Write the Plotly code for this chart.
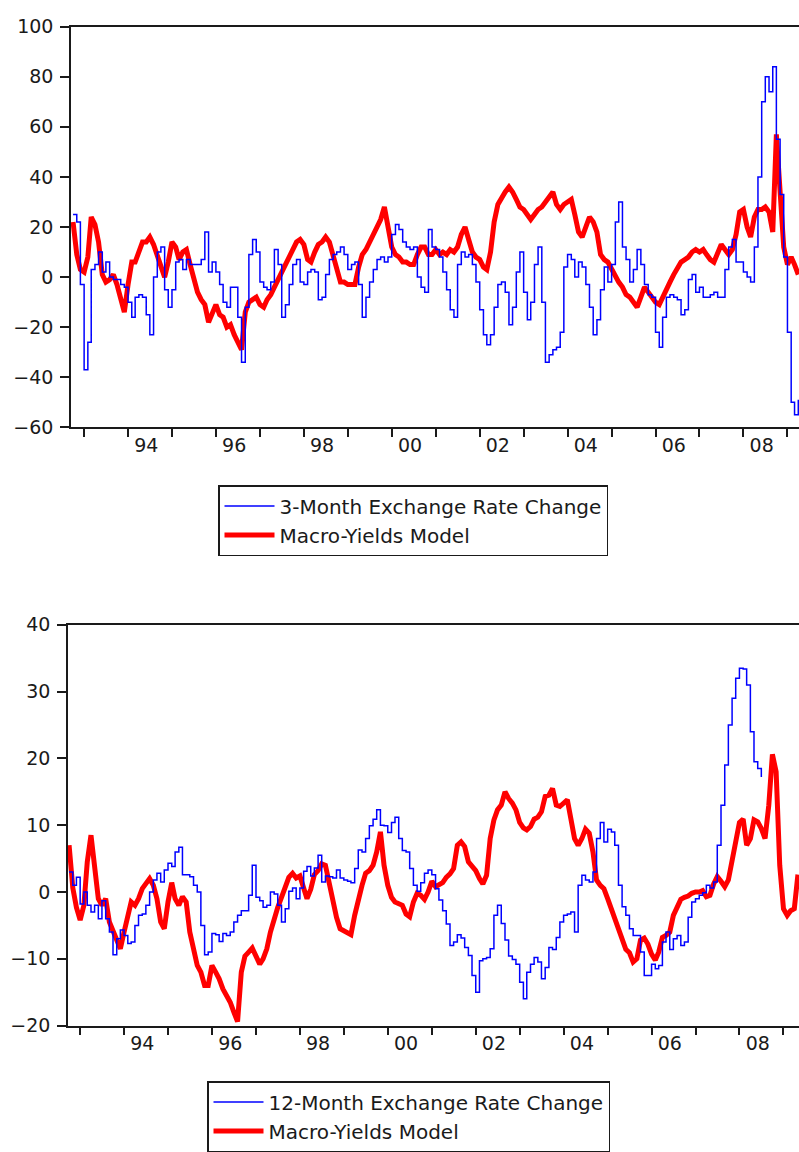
import pandas as pd
import plotly.graph_objects as go

# ---------------- data (monthly, first value = Oct 1992) ----------------
start_month = "1992-10-01"

top_fx_3m = [25, 22, -3, -37, -26, 3, 5, 10, 2, 6, 0, -1, -1, -3, -4, -10, -16, -8, -7, -8,
             -15, -23, 0, 10, 12, -5, -12, -5, 6, 7, 3, 7, 5, 5, 5, 7, 18, 2, 6, 2,
             -3, -10, -12, -4, -4, -16, -34, -12, 9, 15, 10, -2, -4, -5, -2, 11, 5, -16, -11, -3,
             5, 7, -2, -3, 2, 3, 2, -9, -8, 1, 7, 9, 10, 12, 9, 3, 5, 6, -3, -16,
             -8, -2, 3, 7, 8, 6, 8, 17, 21, 19, 14, 12, 11, 12, 0, -4, -6, 19, 12, 11,
             8, 2, -5, -13, -16, 5, 10, 8, 9, 5, -2, -13, -23, -27, -23, -12, -3, -2, -6, -19,
             -12, 2, 10, -6, -17, -10, 5, 12, -10, -34, -31, -29, -28, -22, 4, 9, 7, 0, 6, 4,
             -3, -12, -23, -17, -5, 4, -2, 5, 22, 30, 12, 7, -2, 3, 11, 5, -3, -7, -8, -22,
             -28, -16, -8, -7, -8, -9, -15, -13, -1, 1, -6, -4, -8, -8, -7, -6, -8, -8, 3, 12,
             15, 6, 6, 2, 0, -2, 12, 40, 70, 80, 74, 84, 55, 33, 8, -22, -50, -55, -49]

top_model = [22, 9, 3, 2, 8, 24, 21, 14, 1, -2, -1, 1, -3, -8, -14, -3, 6, 6, 10, 14,
             14, 16, 13, 9, 5, 0, 6, 14, 12, 7, 10, 11, 5, -1, -6, -9, -11, -18, -14, -11,
             -15, -16, -20, -19, -23, -26, -29, -14, -10, -9, -8, -11, -12, -9, -7, -4, -1, 2, 5, 7,
             11, 14, 15, 13, 7, 6, 10, 13, 14, 16, 14, 9, 3, -2, -2, -3, -3, -3, 4, 9,
             11, 14, 18, 20, 23, 28, 20, 12, 9, 8, 6, 6, 5, 5, 9, 12, 12, 9, 9, 11,
             9, 10, 9, 11, 10, 12, 17, 20, 15, 10, 8, 7, 4, 3, 10, 22, 29, 32, 34, 36,
             34, 31, 28, 27, 25, 23, 25, 27, 28, 30, 32, 34, 29, 27, 29, 30, 31, 25, 18, 16,
             20, 24, 22, 18, 9, 7, 6, 3, 0, -2, -4, -7, -8, -10, -12, -8, -4, -6, -8, -10,
             -11, -8, -4, -2, 1, 4, 6, 7, 8, 10, 11, 10, 11, 9, 7, 6, 10, 13, 11, 9,
             11, 17, 26, 27, 20, 16, 24, 27, 27, 28, 26, 18, 57, 35, 12, 5, 8, 5, 1]

bottom_fx_12m = [3, 1, 2.2, -1.8, 0, -2, -3, -2, -4, -1.3, -4, -6, -9.4, -7, -5.7, -6.5, -7.7, -7.5, -5, -3.5,
                 -3.3, -2, 0, 1.8, 2.8, 1.5, 3.3, 4.3, 3.8, 6, 6.7, 2.6, 2.6, 2.3, 1, 0, -5, -9.4, -9, -6.2,
                 -6.4, -7.4, -6.2, -6.5, -6, -4.5, -3.5, -2.8, -2.8, -0.5, 4, -0.8, -1.3, -2.3, -2, 0, -0.3, -2, -4.5, -2.5,
                 0.1, 0.6, -1, 0.6, 3.1, 3.8, 2.4, 3.6, 5.5, 1.5, 2.4, 2.3, 2.1, 3.3, 2.1, 1.8, 1.6, 1.4, 3.5, 6.3,
                 6, 8, 9.9, 10.9, 12.3, 10, 9.9, 8.9, 10.4, 11.2, 8, 6.2, 6, 3.5, 1, 0.1, 1.4, 2.8, 3.3, 2.6,
                 0.5, -1.2, -2.8, -4.8, -8, -7.5, -6.4, -6.9, -8.3, -9.5, -12.5, -15, -10.3, -10, -9.8, -8.5, -3.5, -2, -4.7, -7.2,
                 -9.6, -10.1, -10.8, -13.5, -16, -12, -10.8, -9.8, -10.5, -13, -11.3, -8.3, -8.6, -6.8, -4.5, -3.5, -3.3, -3, -6, 1,
                 2.5, 1.8, 1.5, 3, 8, 10.4, 7.5, 9.4, 9, 7, 1, -2.2, -3.5, -5.5, -6.5, -6.5, -9, -12.5, -12.5, -10.8,
                 -11.5, -11, -7.5, -6, -8.6, -7, -6.5, -8, -7.5, -3.8, -1.5, -1, -0.5, -0.1, 1, 0.6, 1.5, 7, 13, 19,
                 25, 29, 32, 33.5, 33.4, 31, 24, 19.5, 18.5, 17.2]

bottom_model = [7, 0.6, -2.3, -4.2, -2, 4.5, 8.5, 3, -1, -2, -1, -4.5, -6, -7, -8.5, -6, -3.5, -1.5, -2, -1,
                0.5, 1.4, 2, 1, -1, -4.5, -5.5, -1.5, 1.4, -1, -2, -0.7, -1.5, -6, -9, -11, -12, -14, -14, -11,
                -12, -13, -14.5, -15.5, -16.5, -18, -19.4, -12, -9.6, -9, -8.4, -9.6, -10.8, -10, -8.5, -6, -4, -2.3, -0.8, 1,
                2.2, 2.8, 2.1, 2.4, 0.8, -1, 0.4, 2.6, 3.2, 4.2, 4, 1.5, -1.5, -3.8, -5.5, -5.8, -6.1, -6.4, -3.5, -1,
                1, 2.8, 3.2, 4, 6, 9, 4, 1, -0.8, -1.5, -1.8, -2, -3.3, -3.7, -1.5, -0.2, -0.5, -1.1, 0, 1.6,
                0.8, 1.1, 1.4, 2.2, 2.7, 3.5, 7, 7.5, 6.8, 4.5, 3.8, 3.2, 2, 1.2, 2.5, 8, 10.8, 12.3, 13, 15,
                14, 13.3, 12.3, 10.4, 9.6, 9.3, 9.8, 10.9, 11.2, 12, 14.3, 14.5, 15.5, 13, 12.8, 13.3, 13.8, 11, 8, 7,
                8, 9.4, 8.8, 6, 1.8, 1, 0.5, -1, -2.5, -3.8, -5.3, -7.2, -8.6, -9.1, -10.5, -10, -7.2, -6.9, -7.8, -9.3,
                -10.2, -9, -6.8, -6.5, -6, -3.5, -2.2, -1.1, -0.8, -0.6, -0.2, 0, 0, 0.2, -0.7, -0.5, 1.2, 2.3, 1.6, 0.8,
                1.8, 4.5, 7.5, 10.4, 10.9, 7, 8, 10.8, 10.5, 9.5, 8, 13, 20.6, 18, 4, -2.5, -3.5, -2.8, -2.5, 2.6]

label_years = [1994, 1996, 1998, 2000, 2002, 2004, 2006, 2008]
label_text = ["94", "96", "98", "00", "02", "04", "06", "08"]
boundary_years = list(range(1993, 2010))
top_yticks = [-60, -40, -20, 0, 20, 40, 60, 80, 100]
bottom_yticks = [-20, -10, 0, 10, 20, 30, 40]

names_top = ["3-Month Exchange Rate Change", "Macro-Yields Model"]
names_bottom = ["12-Month Exchange Rate Change", "Macro-Yields Model"]

# ---------------- figure ----------------
def dates(n):
    return pd.date_range(start_month, periods=n, freq="MS")

W, H = 799, 1152
BLUE, RED, INK = "#0000FF", "#FF0000", "#1a1a1a"
FONT = "DejaVu Sans"

fig = go.Figure()
fig.add_trace(go.Scatter(x=dates(len(top_model)), y=top_model, name=names_top[1],
                         mode="lines", line=dict(color=RED, width=5), legendrank=2,
                         xaxis="x", yaxis="y", legend="legend"))
fig.add_trace(go.Scatter(x=dates(len(top_fx_3m)), y=top_fx_3m, name=names_top[0],
                         mode="lines", line=dict(color=BLUE, width=1.5, shape="hv"), legendrank=1,
                         xaxis="x", yaxis="y", legend="legend"))
fig.add_trace(go.Scatter(x=dates(len(bottom_model)), y=bottom_model, name=names_bottom[1],
                         mode="lines", line=dict(color=RED, width=5), legendrank=2,
                         xaxis="x2", yaxis="y2", legend="legend2"))
fig.add_trace(go.Scatter(x=dates(len(bottom_fx_12m)), y=bottom_fx_12m, name=names_bottom[0],
                         mode="lines", line=dict(color=BLUE, width=1.5, shape="hv"), legendrank=1,
                         xaxis="x2", yaxis="y2", legend="legend2"))

def xaxis(domain_left, anchor, rng):
    return dict(
        domain=[domain_left / W, 1], anchor=anchor, type="date", range=rng,
        showline=True, linecolor=INK, linewidth=1.5, mirror=True,
        showgrid=False, zeroline=False,
        tickmode="array", tickvals=[f"{y}-06-01" for y in label_years], ticktext=label_text,
        ticks="", ticklabelstandoff=0,
        tickfont=dict(family=FONT, size=19, color=INK),
        minor=dict(tickmode="array", tickvals=[f"{y}-01-01" for y in boundary_years],
                   ticks="outside", ticklen=8, tickwidth=1.5, tickcolor=INK, showgrid=False),
    )

def yaxis(top_px, bottom_px, anchor, rng, tv):
    return dict(
        domain=[1 - bottom_px / H, 1 - top_px / H], anchor=anchor, range=rng,
        tickmode="array", tickvals=tv, ticks="outside", ticklen=9, tickwidth=1.5, tickcolor=INK,
        showline=True, linecolor=INK, linewidth=1.5, mirror=False,
        showgrid=False, zeroline=False, ticklabelstandoff=3,
        tickfont=dict(family=FONT, size=19, color=INK),
    )

def legend(left_px, top_px, width_px):
    return dict(x=left_px / W, y=1 - top_px / H, xanchor="left", yanchor="top",
                bgcolor="white", bordercolor=INK, borderwidth=1.5,
                font=dict(family=FONT, size=20, color=INK), tracegroupgap=0,
                itemwidth=50, entrywidthmode="pixels", entrywidth=width_px)

fig.update_layout(
    width=W, height=H, margin=dict(l=0, r=0, t=0, b=0),
    paper_bgcolor="white", plot_bgcolor="white", showlegend=True,
    xaxis=xaxis(71, "y", ["1992-09-14", "2009-04-07"]),
    yaxis=yaxis(16, 426, "x", [-60, 100], top_yticks),
    xaxis2=xaxis(68, "y2", ["1992-09-22", "2009-05-10"]),
    yaxis2=yaxis(628, 1038, "x2", [-20, 40], bottom_yticks),
    legend=legend(218, 485, 380),
    legend2=legend(207, 1095, 395),
)

fig.write_html("out.html", config={"displayModeBar": False},
               post_script="document.body.style.margin='0px';")
